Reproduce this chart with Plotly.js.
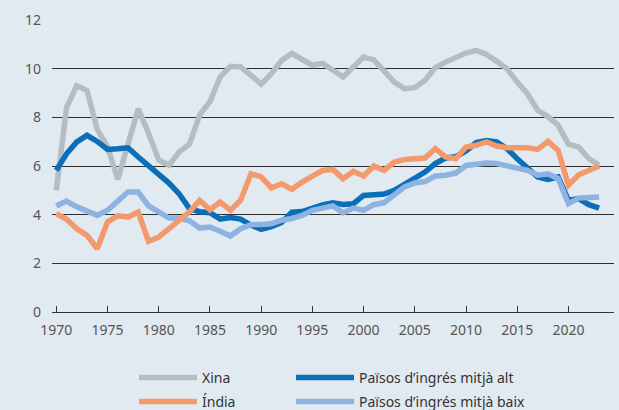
<!DOCTYPE html>
<html>
<head>
<meta charset="utf-8">
<script src="https://cdn.plot.ly/plotly-3.0.1.min.js"></script>
<style>html,body{margin:0;padding:0;background:#e1eaf0;}#chart{width:619px;height:410px;}</style>
</head>
<body>
<div id="chart"></div>
<script>
const years = [];
for (let y = 1970; y <= 2023; y++) years.push(y);

const xina = [5.0, 8.4, 9.3, 9.1, 7.5, 6.8, 5.45, 6.85, 8.35, 7.35,
  6.25, 6.03, 6.58, 6.9, 8.1, 8.65, 9.66, 10.1, 10.07, 9.73,
  9.36, 9.79, 10.34, 10.62, 10.41, 10.14, 10.22, 9.93, 9.66, 10.07,
  10.48, 10.36, 9.89, 9.45, 9.18, 9.22, 9.52, 10.04, 10.27, 10.48,
  10.64, 10.75, 10.58, 10.3, 10.0, 9.45, 8.97, 8.29, 8.03, 7.67,
  6.9, 6.78, 6.3, 6.03];

const india = [4.04, 3.81, 3.42, 3.15, 2.6, 3.7, 3.95, 3.9, 4.11, 2.9,
  3.08, 3.42, 3.77, 4.12, 4.59, 4.2, 4.52, 4.18, 4.59, 5.68,
  5.55, 5.1, 5.27, 5.04, 5.34, 5.55, 5.82, 5.86, 5.48, 5.78,
  5.59, 6.0, 5.82, 6.16, 6.27, 6.3, 6.33, 6.71, 6.37, 6.3,
  6.78, 6.85, 6.99, 6.82, 6.75, 6.75, 6.75, 6.68, 7.01, 6.64,
  5.21, 5.64, 5.82, 6.0];

const mitjaAlt = [5.82, 6.5, 6.99, 7.26, 7.01, 6.68, 6.71, 6.75, 6.37, 6.03,
  5.7, 5.3, 4.85, 4.25, 4.12, 4.08, 3.82, 3.88, 3.82, 3.57,
  3.4, 3.51, 3.68, 4.1, 4.13, 4.28, 4.4, 4.49, 4.42, 4.45,
  4.79, 4.82, 4.85, 5.0, 5.23, 5.48, 5.75, 6.1, 6.33, 6.38,
  6.62, 6.96, 7.05, 6.99, 6.71, 6.3, 5.92, 5.55, 5.45, 5.55,
  4.59, 4.66, 4.41, 4.27];

const mitjaBaix = [4.36, 4.56, 4.32, 4.14, 3.97, 4.18, 4.59, 4.93, 4.93, 4.36,
  4.11, 3.86, 3.86, 3.75, 3.45, 3.49, 3.32, 3.12, 3.42, 3.59,
  3.6, 3.63, 3.77, 3.84, 3.97, 4.18, 4.27, 4.36, 4.07, 4.27,
  4.18, 4.41, 4.49, 4.79, 5.14, 5.3, 5.36, 5.59, 5.62, 5.71,
  6.02, 6.07, 6.12, 6.1, 6.0, 5.92, 5.82, 5.62, 5.68, 5.48,
  4.45, 4.68, 4.73, 4.73];

const xTicks = [1970, 1975, 1980, 1985, 1990, 1995, 2000, 2005, 2010, 2015, 2020];
const yTicks = [0, 2, 4, 6, 8, 10, 12];

const names = ["Xina", "Índia", "Països d’ingrés mitjà alt", "Països d’ingrés mitjà baix"];
const colors = {xina: "#b4bec2", india: "#f4996b", alt: "#0a6fb8", baix: "#8db3e2"};

function tr(y, name, color, legend) {
  return {x: years, y: y, name: name, type: "scatter", mode: "lines",
    line: {color: color, width: 5.5}, legend: legend, hoverinfo: "skip"};
}

const data = [
  tr(xina, names[0], colors.xina, "legend"),
  tr(mitjaAlt, names[2], colors.alt, "legend3"),
  tr(mitjaBaix, names[3], colors.baix, "legend4"),
  tr(india, names[1], colors.india, "legend2")
];

const W = 619, H = 410, ml = 52, mr = 5, mt = 20, mb = 98;
const pw = W - ml - mr, ph = H - mt - mb;
function px(xp) { return (xp - ml) / pw; }
function py(yp) { return (H - mb - yp) / ph; }

const legFont = {family: "Noto Sans, sans-serif", size: 14, color: "#333"};
function leg(xp, yp) {
  return {x: px(xp), y: py(yp), xanchor: "left", yanchor: "middle",
    bgcolor: "rgba(0,0,0,0)", font: legFont, itemwidth: 58, borderwidth: 0};
}

const layout = {
  width: W, height: H,
  margin: {l: ml, r: mr, t: mt, b: mb, autoexpand: false},
  paper_bgcolor: "#e1eaf0",
  plot_bgcolor: "#e1eaf0",
  font: {family: "Noto Sans, sans-serif", size: 14, color: "#555"},
  xaxis: {
    range: [1969.58, 2024.45],
    tickvals: xTicks, ticktext: xTicks.map(String),
    ticks: "inside", ticklen: 6, tickcolor: "#333", tickwidth: 1,
    showgrid: false, zeroline: false,
    showline: true, linecolor: "#333", linewidth: 1,
    ticklabelstandoff: 5,
    tickfont: {size: 14, color: "#555"},
    fixedrange: true
  },
  yaxis: {
    range: [0, 12],
    tickvals: yTicks, ticktext: yTicks.map(String),
    showgrid: true, gridcolor: "#2e2e2e", gridwidth: 1,
    zeroline: false, showline: false, ticks: "",
    ticklabelstandoff: 10,
    tickfont: {size: 14, color: "#555"},
    fixedrange: true
  },
  showlegend: true,
  legend: leg(134, 378),
  legend2: leg(134, 402),
  legend3: leg(291, 378),
  legend4: leg(291, 402)
};

Plotly.newPlot("chart", data, layout, {displayModeBar: false, staticPlot: true});
</script>
</body>
</html>
